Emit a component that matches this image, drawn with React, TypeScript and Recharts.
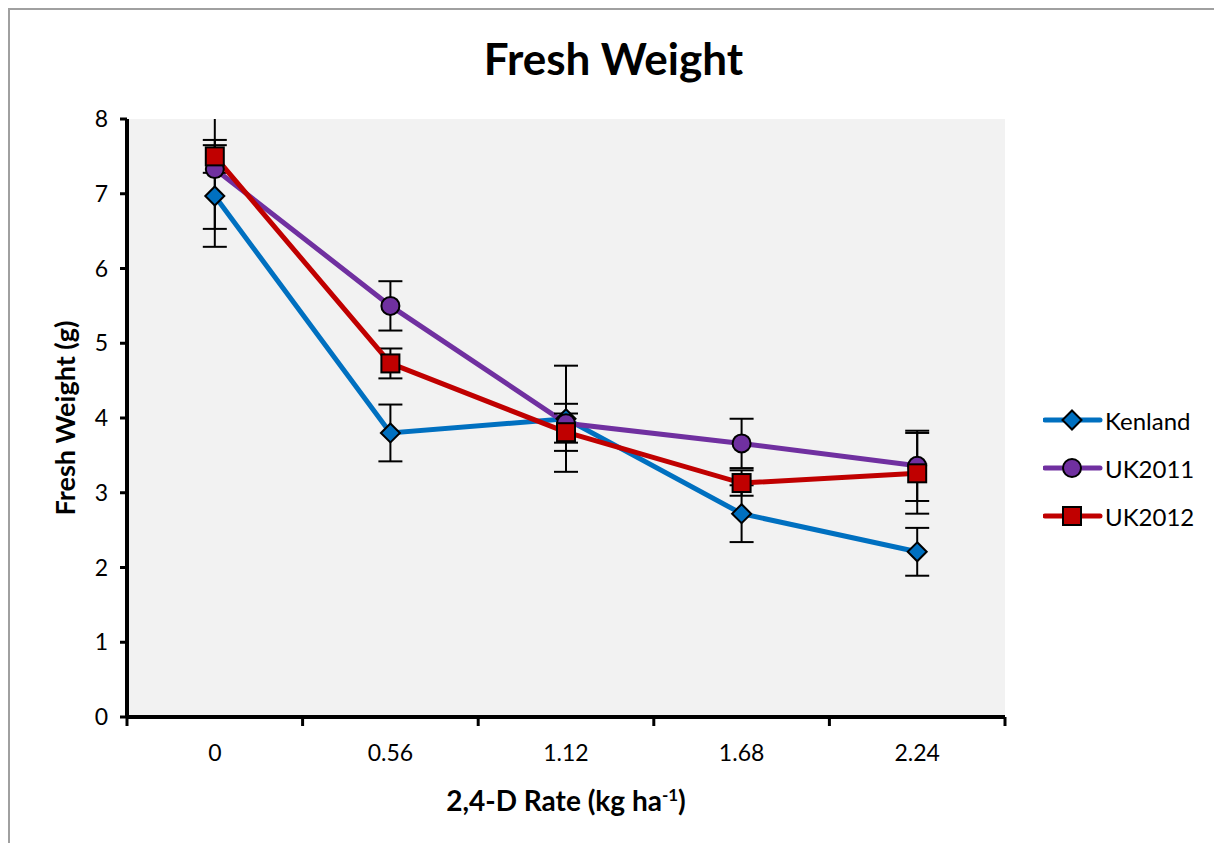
import { LineChart, Line, XAxis, YAxis, CartesianGrid, ErrorBar } from 'recharts';

const categories = ['0', '0.56', '1.12', '1.68', '2.24'];
const yTicks = [0, 1, 2, 3, 4, 5, 6, 7, 8];

const kenland = [6.97, 3.8, 3.99, 2.72, 2.21];
const kenlandErr = [0.68, 0.38, 0.71, 0.38, 0.32];
const uk2011 = [7.33, 5.5, 3.93, 3.66, 3.36];
const uk2011Err = [0.8, 0.33, 0.26, 0.33, 0.47];
const uk2012 = [7.5, 4.73, 3.81, 3.13, 3.26];
const uk2012Err = [0.22, 0.2, 0.25, 0.17, 0.54];

const FONT = 'Lato, "Open Sans", sans-serif';

const series = [
    { key: 'kenland', name: 'Kenland', color: '#0070C0', shape: 'diamond' },
    { key: 'uk2011', name: 'UK2011', color: '#7030A0', shape: 'circle' },
    { key: 'uk2012', name: 'UK2012', color: '#C00000', shape: 'square' },
];

const data = categories.map((cat, i) => ({
    x: i + 0.5,
    cat,
    kenland: kenland[i],
    kenlandErr: kenlandErr[i],
    uk2011: uk2011[i],
    uk2011Err: uk2011Err[i],
    uk2012: uk2012[i],
    uk2012Err: uk2012Err[i],
}));

// boundaries get tick marks, centers get the labels
const xTicks: number[] = [];
for (let i = 0; i <= categories.length; i++) {
    xTicks.push(i);
    if (i < categories.length) xTicks.push(i + 0.5);
}

// chart layout
const CHART_W = 1207;
const CHART_H = 835;
const Y_AXIS_W = 60;
const X_AXIS_H = 50;
const margin = { top: 109, right: 212, left: 57, bottom: 78 };
const plotX = margin.left + Y_AXIS_W;
const plotY = margin.top;
const plotW = CHART_W - plotX - margin.right;
const plotH = CHART_H - plotY - margin.bottom - X_AXIS_H;

const Marker = ({ cx, cy, shape, color }: any) => {
    if (cx == null || cy == null) return null;
    if (shape === 'diamond') {
        const r = 9.5;
        return (
            <path
                d={`M${cx},${cy - r}L${cx + r},${cy}L${cx},${cy + r}L${cx - r},${cy}Z`}
                fill={color}
                stroke="#000"
                strokeWidth={2}
            />
        );
    }
    if (shape === 'square') {
        const s = 9;
        return <rect x={cx - s} y={cy - s} width={s * 2} height={s * 2} fill={color} stroke="#000" strokeWidth={2} />;
    }
    return <circle cx={cx} cy={cy} r={9} fill={color} stroke="#000" strokeWidth={2} />;
};

const XTick = ({ x, y, payload }: any) => {
    const v = payload.value;
    if (Number.isInteger(v)) {
        return <line x1={x} y1={y} x2={x} y2={y + 9} stroke="#000" strokeWidth={3} />;
    }
    return (
        <text x={x} y={y + 38} textAnchor="middle" dominantBaseline="middle" fontSize={23} fontFamily={FONT} fill="#000">
            {categories[Math.floor(v)]}
        </text>
    );
};

const ChartLegend = () => (
    <div style={{ position: 'absolute', left: 1033, top: 386, fontSize: 24 }}>
        {series.map((s) => (
            <div key={s.key} style={{ display: 'flex', alignItems: 'center', height: 48 }}>
                <svg width={60} height={24}>
                    <line x1={2} y1={12} x2={57} y2={12} stroke={s.color} strokeWidth={5} strokeLinecap="round" />
                    <Marker cx={29} cy={12} shape={s.shape} color={s.color} />
                </svg>
                <span style={{ marginLeft: 2 }}>{s.name}</span>
            </div>
        ))}
    </div>
);

const App = () => {
    return (
        <div
            style={{
                position: 'relative',
                width: 1211,
                height: 845,
                border: '2px solid #A0A0A0',
                boxSizing: 'border-box',
                background: '#fff',
                fontFamily: FONT,
            }}
        >
            <style>{`.recharts-errorBars { clip-path: url(#fw-plot-clip); }`}</style>
            <svg width={0} height={0} style={{ position: 'absolute' }}>
                <defs>
                    <clipPath id="fw-plot-clip" clipPathUnits="userSpaceOnUse">
                        <rect x={plotX} y={plotY} width={plotW} height={plotH} />
                    </clipPath>
                </defs>
            </svg>
            <div
                style={{
                    position: 'absolute',
                    top: 26,
                    left: 0,
                    width: '100%',
                    textAlign: 'center',
                    fontSize: 44,
                    lineHeight: '44px',
                    fontWeight: 'bold',
                }}
            >
                Fresh Weight
            </div>
            <div
                style={{
                    position: 'absolute',
                    left: 54,
                    top: 408,
                    transform: 'translate(-50%, -50%) rotate(-90deg)',
                    whiteSpace: 'nowrap',
                    fontSize: 27,
                    fontWeight: 'bold',
                }}
            >
                Fresh Weight (g)
            </div>
            <div
                style={{
                    position: 'absolute',
                    left: 556,
                    top: 790,
                    transform: 'translate(-50%, -50%)',
                    whiteSpace: 'nowrap',
                    fontSize: 28,
                    fontWeight: 'bold',
                }}
            >
                2,4-D Rate (kg ha<sup style={{ fontSize: 17 }}>-1</sup>)
            </div>
            <LineChart width={CHART_W} height={CHART_H} data={data} margin={margin}>
                <CartesianGrid fill="#F2F2F2" stroke="none" horizontal={false} vertical={false} />
                <XAxis
                    type="number"
                    dataKey="x"
                    domain={[0, categories.length]}
                    ticks={xTicks}
                    interval={0}
                    height={X_AXIS_H}
                    tickSize={0}
                    tickMargin={0}
                    tickLine={false}
                    axisLine={{ stroke: '#000', strokeWidth: 4 }}
                    tick={<XTick />}
                />
                <YAxis
                    type="number"
                    domain={[0, 8]}
                    ticks={yTicks}
                    allowDataOverflow
                    width={Y_AXIS_W}
                    tickSize={7}
                    tickMargin={12}
                    tickLine={{ stroke: '#000', strokeWidth: 3 }}
                    axisLine={{ stroke: '#000', strokeWidth: 4 }}
                    tick={{ fill: '#000', fontSize: 23, fontFamily: FONT }}
                />
                {series.map((s) => (
                    <Line
                        key={s.key}
                        type="linear"
                        dataKey={s.key}
                        name={s.name}
                        stroke={s.color}
                        strokeWidth={5}
                        dot={(p: any) => <Marker key={`${s.key}-${p.index}`} cx={p.cx} cy={p.cy} shape={s.shape} color={s.color} />}
                        activeDot={false}
                        isAnimationActive={false}
                    >
                        <ErrorBar dataKey={`${s.key}Err`} direction="y" width={12} stroke="#000" strokeWidth={2} />
                    </Line>
                ))}
            </LineChart>
            <ChartLegend />
        </div>
    );
};

export default App;
